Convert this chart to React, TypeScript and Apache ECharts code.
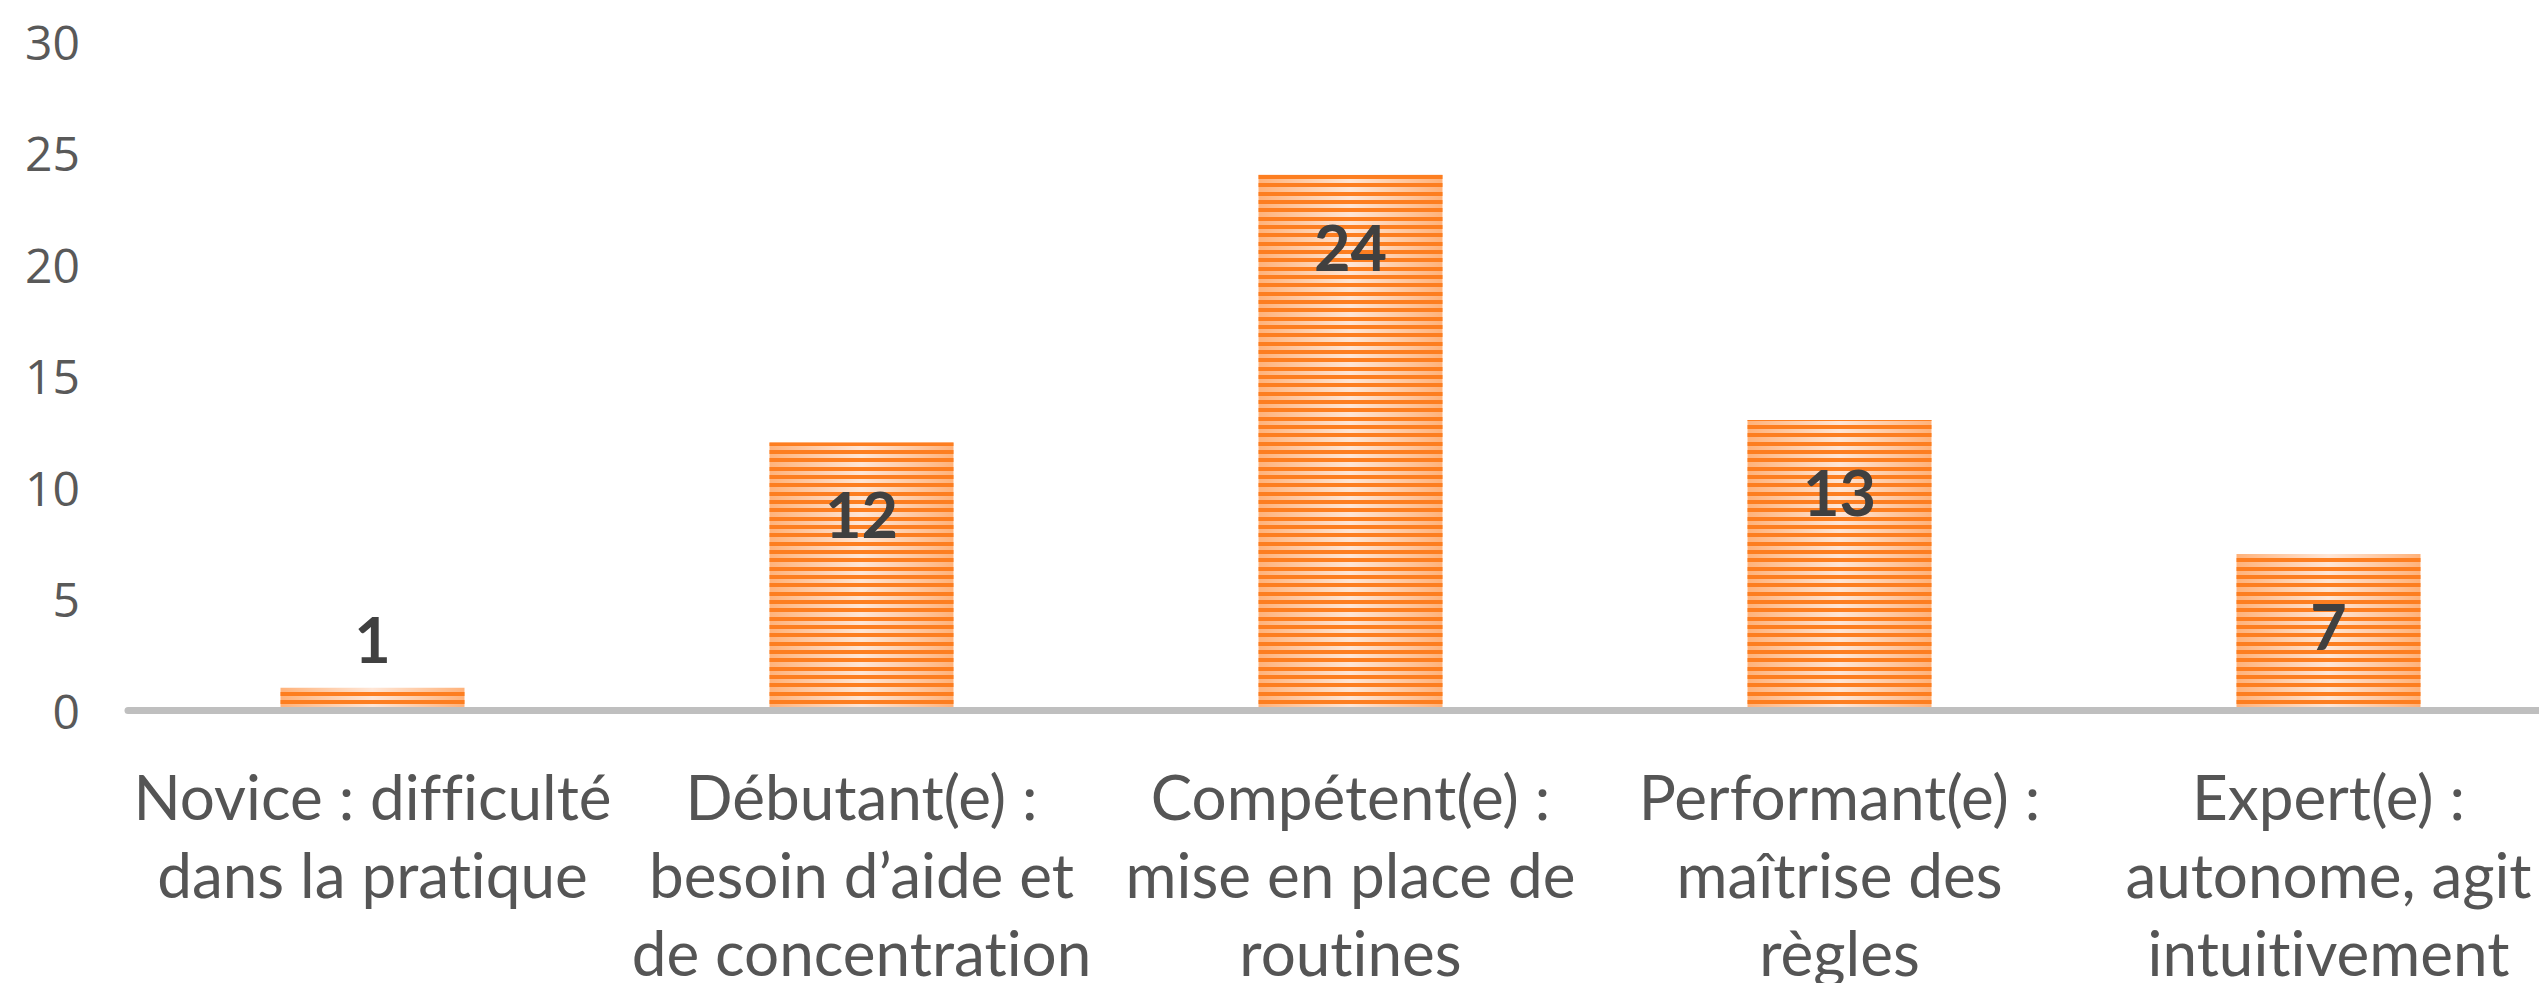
import React, { useEffect, useRef } from "react";
import * as echarts from "echarts";

const categories: string[] = [
  "Novice : difficulté\ndans la pratique",
  "Débutant(e) :\nbesoin d’aide et\nde concentration",
  "Compétent(e) :\nmise en place de\nroutines",
  "Performant(e) :\nmaîtrise des\nrègles",
  "Expert(e) :\nautonome, agit\nintuitivement",
];
const values: number[] = [1, 12, 24, 13, 7];
const yTicks = { min: 0, max: 30, interval: 5 };

function makeStripe(): string {
  const c = document.createElement("canvas");
  c.width = 8;
  c.height = 25;
  const ctx = c.getContext("2d")!;
  ctx.clearRect(0, 0, 8, 25);
  ctx.fillStyle = "#FD7E20";
  ctx.fillRect(0, 0, 8, 4);
  ctx.fillRect(0, 8, 8, 4);
  ctx.fillRect(0, 17, 8, 4);
  return c.toDataURL();
}

export default function App() {
  const ref = useRef<HTMLDivElement>(null);
  useEffect(() => {
    document.body.style.margin = "0";
    document.body.style.overflow = "hidden";
    const chart = echarts.init(ref.current!, undefined, { renderer: "svg" });
    const stripe = makeStripe();
    chart.setOption({
      animation: false,
      backgroundColor: "#ffffff",
      grid: {
        left: 128,
        top: 41,
        width: 2445,
        height: 669,
        containLabel: false,
        outerBoundsMode: "none",
      },
      xAxis: {
        type: "category",
        data: categories,
        z: 10,
        axisLine: { show: true, lineStyle: { color: "#BFBFBF", width: 7 } },
        axisTick: { show: false },
        axisLabel: {
          interval: 0,
          margin: 47,
          fontFamily: "Lato",
          fontSize: 62,
          lineHeight: 78,
          color: "#555555",
        },
        splitLine: { show: false },
      },
      yAxis: {
        type: "value",
        min: yTicks.min,
        max: yTicks.max,
        interval: yTicks.interval,
        axisLine: { show: false },
        axisTick: { show: false },
        splitLine: { show: false },
        axisLabel: {
          margin: 48,
          fontFamily: "Open Sans",
          fontSize: 48,
          color: "#595959",
        },
      },
      series: [
        {
          type: "bar",
          data: values,
          barWidth: 184,
          silent: true,
          itemStyle: {
            color: new echarts.graphic.LinearGradient(1, 0, 0, 0, [
              { offset: 0, color: "#FFB27A" },
              { offset: 0.5, color: "#FFE6D6" },
              { offset: 1, color: "#FFB27A" },
            ]),
          },
        },
        {
          type: "bar",
          data: values.map((v, i) =>
            i === 0
              ? { value: v, label: { position: "top", distance: 18 } }
              : { value: v }
          ),
          barWidth: 184,
          barGap: "-100%",
          silent: true,
          itemStyle: {
            color: {
              image: stripe,
              repeat: "repeat",
              imageWidth: 8,
              imageHeight: 25,
            },
          },
          label: {
            show: true,
            position: "insideTop",
            distance: 40,
            fontFamily: "Lato",
            fontWeight: "bold",
            fontSize: 63,
            lineHeight: 63,
            color: "#404040",
          },
        },
      ],
    });
    return () => chart.dispose();
  }, []);
  return (
    <>
      <style>{"svg text { font-variant-ligatures: none; font-feature-settings: 'liga' 0; }"}</style>
      <div ref={ref} style={{ width: 2539, height: 983 }} />
    </>
  );
}
